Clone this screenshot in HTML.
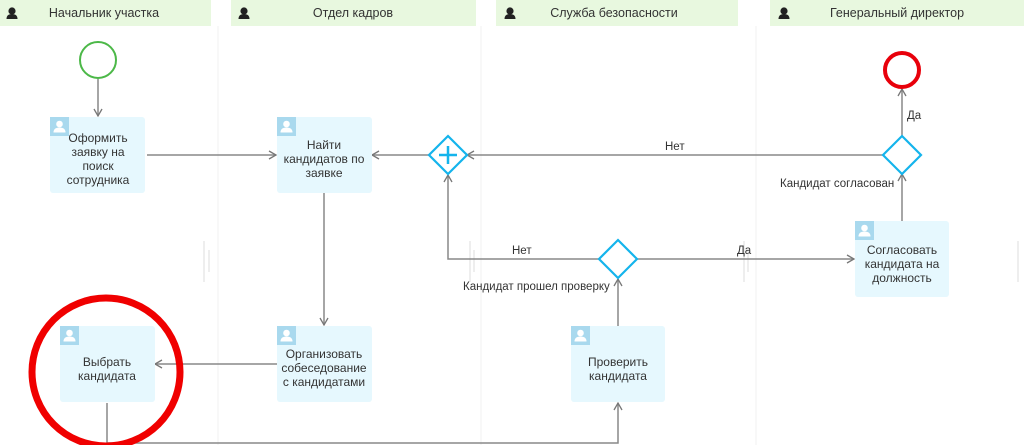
<!DOCTYPE html>
<html><head><meta charset="utf-8"><style>
html,body{margin:0;padding:0;background:#fff;width:1024px;height:445px;overflow:hidden}
text{font-family:"Liberation Sans","Noto Sans CJK SC",sans-serif;fill:#333}
</style></head><body>
<svg width="1024" height="445" viewBox="0 0 1024 445" xmlns="http://www.w3.org/2000/svg">
<defs>
<g id="usr"><rect width="19" height="19" fill="#a9d9ee"/><circle cx="9.5" cy="7" r="3.3" fill="#fff"/><path d="M3.5 15.5 q0-5 6-5 q6 0 6 5z" fill="#fff"/></g>
<g id="hd"><circle cx="0" cy="-3" r="3.6" fill="#222"/><path d="M-5.5 5 q0-5 5.5-5 q5.5 0 5.5 5z" fill="#222"/></g>
<marker id="a" markerWidth="10" markerHeight="10" refX="8" refY="5" orient="auto" markerUnits="userSpaceOnUse"><path d="M1 1 L8 5 L1 9" fill="none" stroke="#777" stroke-width="1.3"/></marker>
</defs>
<!-- lane dividers -->
<g stroke="#f0f0f0" stroke-width="1">
<line x1="218" y1="26" x2="218" y2="445"/><line x1="481" y1="26" x2="481" y2="445"/><line x1="756" y1="26" x2="756" y2="445"/>
</g>
<g stroke="#ddd" stroke-width="1">
<line x1="204" y1="241" x2="204" y2="282"/><line x1="209" y1="250" x2="209" y2="272"/>
<line x1="470" y1="241" x2="470" y2="282"/><line x1="474" y1="250" x2="474" y2="272"/>
<line x1="744" y1="241" x2="744" y2="282"/><line x1="748" y1="250" x2="748" y2="272"/>
<line x1="1018" y1="241" x2="1018" y2="282"/>
</g>
<!-- headers -->
<g fill="#e8f8df">
<rect x="0" y="0" width="211" height="26"/><rect x="231" y="0" width="245" height="26"/>
<rect x="496" y="0" width="242" height="26"/><rect x="770" y="0" width="254" height="26"/>
</g>
<use href="#hd" x="12" y="14"/><use href="#hd" x="244" y="14"/><use href="#hd" x="510" y="14"/><use href="#hd" x="784" y="14"/>
<g font-size="12.5" text-anchor="middle">
<text x="104" y="17">Начальник участка</text>
<text x="353" y="17">Отдел кадров</text>
<text x="614" y="17">Служба безопасности</text>
<text x="897" y="17">Генеральный директор</text>
</g>
<!-- connectors -->
<g stroke="#888" stroke-width="1.5" fill="none">
<line x1="98" y1="79" x2="98" y2="116" marker-end="url(#a)"/>
<line x1="147" y1="155" x2="276" y2="155" marker-end="url(#a)"/>
<line x1="429" y1="155" x2="372" y2="155" marker-end="url(#a)"/>
<line x1="883" y1="155" x2="467" y2="155" marker-end="url(#a)"/>
<line x1="902" y1="136" x2="902" y2="89" marker-end="url(#a)"/>
<line x1="902" y1="221" x2="902" y2="174" marker-end="url(#a)"/>
<line x1="324" y1="193" x2="324" y2="325" marker-end="url(#a)"/>
<line x1="277" y1="364" x2="155" y2="364" marker-end="url(#a)"/>
<polyline points="107,403 107,443 618,443 618,403" marker-end="url(#a)"/>
<line x1="618" y1="326" x2="618" y2="279" marker-end="url(#a)"/>
<polyline points="599,259 448,259 448,175" marker-end="url(#a)"/>
<line x1="637" y1="259" x2="854" y2="259" marker-end="url(#a)"/>
</g>
<!-- events -->
<circle cx="98" cy="60" r="18" fill="#fff" stroke="#4cb848" stroke-width="2"/>
<circle cx="902" cy="70" r="17" fill="#fff" stroke="#e8000b" stroke-width="4"/>
<!-- gateways -->
<g fill="#fff" stroke="#14b4ec" stroke-width="2.2">
<path d="M448 136 L467 155 L448 174 L429 155Z"/>
<path d="M902 136 L921 155 L902 174 L883 155Z"/>
<path d="M618 240 L637 259 L618 278 L599 259Z"/>
<path d="M448 146 V164 M439 155 H457" stroke-width="2.5"/>
</g>
<!-- tasks -->
<g fill="#e6f8fe">
<rect x="50" y="117" width="95" height="76" rx="3"/>
<rect x="277" y="117" width="95" height="76" rx="3"/>
<rect x="855" y="221" width="94" height="76" rx="3"/>
<rect x="60" y="326" width="95" height="76" rx="3"/>
<rect x="277" y="326" width="95" height="76" rx="3"/>
<rect x="571" y="326" width="94" height="76" rx="3"/>
</g>
<use href="#usr" x="50" y="117"/><use href="#usr" x="277" y="117"/><use href="#usr" x="855" y="221"/>
<use href="#usr" x="60" y="326"/><use href="#usr" x="277" y="326"/><use href="#usr" x="571" y="326"/>
<g font-size="12" text-anchor="middle">
<text x="98" y="142">Оформить</text><text x="98" y="156">заявку на</text><text x="98" y="170">поиск</text><text x="98" y="184">сотрудника</text>
<text x="324" y="149">Найти</text><text x="324" y="163">кандидатов по</text><text x="324" y="177">заявке</text>
<text x="902" y="254">Согласовать</text><text x="902" y="268">кандидата на</text><text x="902" y="282">должность</text>
<text x="107" y="366">Выбрать</text><text x="107" y="380">кандидата</text>
<text x="324" y="358">Организовать</text><text x="324" y="372">собеседование</text><text x="324" y="386">с кандидатами</text>
<text x="618" y="366">Проверить</text><text x="618" y="380">кандидата</text>
</g>
<g font-size="11.5">
<text x="665" y="150">Нет</text>
<text x="907" y="119">Да</text>
<text x="780" y="187">Кандидат согласован</text>
<text x="512" y="254">Нет</text>
<text x="737" y="254">Да</text>
<text x="463" y="290">Кандидат прошел проверку</text>
</g>
<circle cx="106" cy="372" r="74" fill="none" stroke="#f00000" stroke-width="7"/>
</svg>
</body></html>
